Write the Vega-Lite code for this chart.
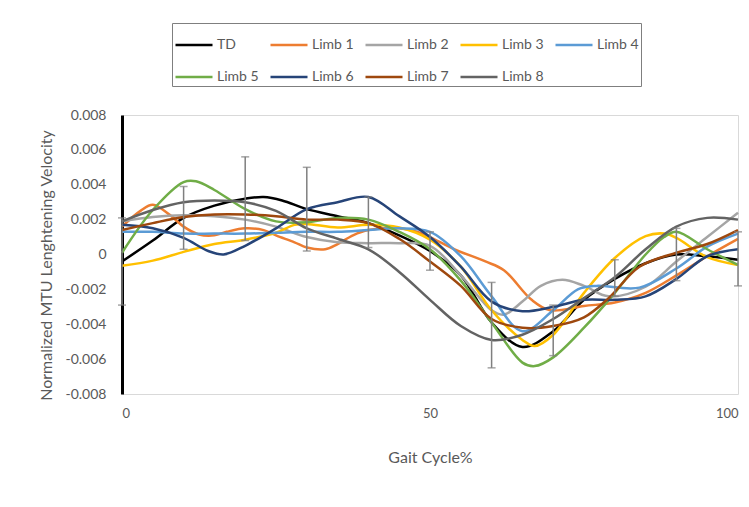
{
  "$schema": "https://vega.github.io/schema/vega-lite/v6.json",
  "width": 616,
  "height": 279,
  "autosize": {"type": "none"},
  "padding": {"left": 122, "top": 115, "right": 11, "bottom": 113},
  "background": "white",
  "config": {
    "font": "Lato",
    "view": {"stroke": "#D9D9D9", "strokeWidth": 1},
    "axis": {"labelColor": "#595959", "titleColor": "#595959", "labelFontSize": 14, "titleFontSize": 16, "titleFontWeight": "normal", "grid": false, "ticks": false, "labelOverlap": false},
    "axisY": {"format": ".3~f", "tickCount": 8,
              "labelExpr": "replace(datum.label, '\u2212', '-')", "domainColor": "#000000", "domainWidth": 3,
              "labelPadding": 16, "titleX": -76, "titleY": 150, "titleAngle": -90, "titleAlign": "center", "titleBaseline": "middle"},
    "axisX": {"domain": false, "labelFlush": 8, "labelFontSize": 13, "labelPadding": 13, "titlePadding": 29}
  },
  "datasets": {
    "lines": [
      {"s":"TD","g":0,"v":-0.0004},{"s":"TD","g":5,"v":0.0008},{"s":"TD","g":10,"v":0.0021},{"s":"TD","g":15,"v":0.0028},{"s":"TD","g":20,"v":0.0032},{"s":"TD","g":23,"v":0.0033},{"s":"TD","g":26,"v":0.0031},{"s":"TD","g":30,"v":0.0026},{"s":"TD","g":35,"v":0.0022},{"s":"TD","g":40,"v":0.0018},{"s":"TD","g":45,"v":0.0011},{"s":"TD","g":50,"v":0.0002},{"s":"TD","g":55,"v":-0.0012},{"s":"TD","g":60,"v":-0.0039},{"s":"TD","g":65,"v":-0.0053},{"s":"TD","g":70,"v":-0.0044},{"s":"TD","g":75,"v":-0.0026},{"s":"TD","g":80,"v":-0.0014},{"s":"TD","g":85,"v":-0.0005},{"s":"TD","g":90,"v":0.0000},{"s":"TD","g":95,"v":-0.0001},{"s":"TD","g":100,"v":-0.0003},

      {"s":"Limb 1","g":0,"v":0.0016},{"s":"Limb 1","g":3,"v":0.0025},{"s":"Limb 1","g":5,"v":0.00285},{"s":"Limb 1","g":8,"v":0.0022},{"s":"Limb 1","g":10,"v":0.0016},{"s":"Limb 1","g":12.5,"v":0.00115},{"s":"Limb 1","g":15,"v":0.0011},{"s":"Limb 1","g":17,"v":0.0013},{"s":"Limb 1","g":20,"v":0.0015},{"s":"Limb 1","g":23,"v":0.0014},{"s":"Limb 1","g":25,"v":0.0011},{"s":"Limb 1","g":28,"v":0.0007},{"s":"Limb 1","g":30,"v":0.0004},{"s":"Limb 1","g":33,"v":0.0003},{"s":"Limb 1","g":35,"v":0.0006},{"s":"Limb 1","g":37.5,"v":0.0011},{"s":"Limb 1","g":40,"v":0.0014},{"s":"Limb 1","g":45,"v":0.0015},{"s":"Limb 1","g":48,"v":0.0013},{"s":"Limb 1","g":50,"v":0.0010},{"s":"Limb 1","g":54,"v":0.0003},{"s":"Limb 1","g":59,"v":-0.0004},{"s":"Limb 1","g":62,"v":-0.0009},{"s":"Limb 1","g":66.5,"v":-0.0026},{"s":"Limb 1","g":69.5,"v":-0.0032},{"s":"Limb 1","g":75,"v":-0.00295},{"s":"Limb 1","g":80,"v":-0.00275},{"s":"Limb 1","g":85,"v":-0.0022},{"s":"Limb 1","g":90,"v":-0.0012},{"s":"Limb 1","g":95,"v":-0.0001},{"s":"Limb 1","g":100,"v":0.0009},

      {"s":"Limb 2","g":0,"v":0.0019},{"s":"Limb 2","g":5,"v":0.00215},{"s":"Limb 2","g":10,"v":0.00225},{"s":"Limb 2","g":15,"v":0.0022},{"s":"Limb 2","g":20,"v":0.0020},{"s":"Limb 2","g":25,"v":0.0016},{"s":"Limb 2","g":30,"v":0.0010},{"s":"Limb 2","g":35,"v":0.0007},{"s":"Limb 2","g":40,"v":0.00065},{"s":"Limb 2","g":45,"v":0.00065},{"s":"Limb 2","g":50,"v":0.0005},{"s":"Limb 2","g":55,"v":-0.0012},{"s":"Limb 2","g":60,"v":-0.0032},{"s":"Limb 2","g":62,"v":-0.00345},{"s":"Limb 2","g":65,"v":-0.0027},{"s":"Limb 2","g":68,"v":-0.0018},{"s":"Limb 2","g":71.5,"v":-0.00145},{"s":"Limb 2","g":75,"v":-0.0018},{"s":"Limb 2","g":79,"v":-0.0024},{"s":"Limb 2","g":85,"v":-0.00185},{"s":"Limb 2","g":90,"v":-0.0004},{"s":"Limb 2","g":95,"v":0.0010},{"s":"Limb 2","g":100,"v":0.0024},

      {"s":"Limb 3","g":0,"v":-0.00065},{"s":"Limb 3","g":5,"v":-0.00035},{"s":"Limb 3","g":10,"v":0.00015},{"s":"Limb 3","g":15,"v":0.0006},{"s":"Limb 3","g":20,"v":0.00085},{"s":"Limb 3","g":25,"v":0.00125},{"s":"Limb 3","g":28,"v":0.0017},{"s":"Limb 3","g":30,"v":0.00175},{"s":"Limb 3","g":35,"v":0.00155},{"s":"Limb 3","g":40,"v":0.0017},{"s":"Limb 3","g":45,"v":0.00155},{"s":"Limb 3","g":50,"v":0.00085},{"s":"Limb 3","g":55,"v":-0.0007},{"s":"Limb 3","g":60,"v":-0.0032},{"s":"Limb 3","g":65,"v":-0.0049},{"s":"Limb 3","g":67,"v":-0.00525},{"s":"Limb 3","g":70,"v":-0.0046},{"s":"Limb 3","g":75,"v":-0.0022},{"s":"Limb 3","g":80,"v":-0.0002},{"s":"Limb 3","g":85,"v":0.00105},{"s":"Limb 3","g":88,"v":0.0012},{"s":"Limb 3","g":90,"v":0.00095},{"s":"Limb 3","g":95,"v":-0.00015},{"s":"Limb 3","g":100,"v":-0.0006},

      {"s":"Limb 4","g":0,"v":0.0013},{"s":"Limb 4","g":5,"v":0.0013},{"s":"Limb 4","g":10,"v":0.0012},{"s":"Limb 4","g":15,"v":0.0012},{"s":"Limb 4","g":20,"v":0.0012},{"s":"Limb 4","g":25,"v":0.00125},{"s":"Limb 4","g":30,"v":0.0013},{"s":"Limb 4","g":35,"v":0.0013},{"s":"Limb 4","g":40,"v":0.0014},{"s":"Limb 4","g":45,"v":0.0015},{"s":"Limb 4","g":50,"v":0.0013},{"s":"Limb 4","g":55,"v":-0.0001},{"s":"Limb 4","g":60,"v":-0.0024},{"s":"Limb 4","g":65,"v":-0.0044},{"s":"Limb 4","g":70,"v":-0.0032},{"s":"Limb 4","g":74,"v":-0.0020},{"s":"Limb 4","g":77,"v":-0.0018},{"s":"Limb 4","g":84,"v":-0.0019},{"s":"Limb 4","g":90,"v":-0.0008},{"s":"Limb 4","g":95,"v":0.00045},{"s":"Limb 4","g":100,"v":0.0012},

      {"s":"Limb 5","g":0,"v":0.0001},{"s":"Limb 5","g":5,"v":0.00255},{"s":"Limb 5","g":10,"v":0.00415},{"s":"Limb 5","g":12,"v":0.0042},{"s":"Limb 5","g":15,"v":0.0037},{"s":"Limb 5","g":20,"v":0.0026},{"s":"Limb 5","g":25,"v":0.0019},{"s":"Limb 5","g":30,"v":0.00185},{"s":"Limb 5","g":35,"v":0.0021},{"s":"Limb 5","g":40,"v":0.0020},{"s":"Limb 5","g":45,"v":0.0013},{"s":"Limb 5","g":50,"v":0.0003},{"s":"Limb 5","g":55,"v":-0.0015},{"s":"Limb 5","g":60,"v":-0.0039},{"s":"Limb 5","g":65,"v":-0.0062},{"s":"Limb 5","g":67,"v":-0.0064},{"s":"Limb 5","g":70,"v":-0.0059},{"s":"Limb 5","g":75,"v":-0.0042},{"s":"Limb 5","g":80,"v":-0.0022},{"s":"Limb 5","g":85,"v":0.0000},{"s":"Limb 5","g":88,"v":0.0010},{"s":"Limb 5","g":90,"v":0.0013},{"s":"Limb 5","g":95,"v":0.0003},{"s":"Limb 5","g":100,"v":-0.0006},

      {"s":"Limb 6","g":0,"v":0.0017},{"s":"Limb 6","g":5,"v":0.0015},{"s":"Limb 6","g":10,"v":0.00095},{"s":"Limb 6","g":14,"v":0.0002},{"s":"Limb 6","g":16.5,"v":0.0000},{"s":"Limb 6","g":20,"v":0.0005},{"s":"Limb 6","g":25,"v":0.0015},{"s":"Limb 6","g":30,"v":0.0026},{"s":"Limb 6","g":35,"v":0.0030},{"s":"Limb 6","g":40,"v":0.0033},{"s":"Limb 6","g":45,"v":0.0022},{"s":"Limb 6","g":50,"v":0.0010},{"s":"Limb 6","g":55,"v":-0.0007},{"s":"Limb 6","g":60,"v":-0.0027},{"s":"Limb 6","g":65,"v":-0.00325},{"s":"Limb 6","g":70,"v":-0.0030},{"s":"Limb 6","g":75,"v":-0.0026},{"s":"Limb 6","g":80,"v":-0.0026},{"s":"Limb 6","g":85,"v":-0.0024},{"s":"Limb 6","g":90,"v":-0.0014},{"s":"Limb 6","g":95,"v":-0.0001},{"s":"Limb 6","g":100,"v":0.0003},

      {"s":"Limb 7","g":0,"v":0.0014},{"s":"Limb 7","g":5,"v":0.0018},{"s":"Limb 7","g":10,"v":0.00215},{"s":"Limb 7","g":15,"v":0.0023},{"s":"Limb 7","g":20,"v":0.0023},{"s":"Limb 7","g":25,"v":0.0022},{"s":"Limb 7","g":30,"v":0.0020},{"s":"Limb 7","g":35,"v":0.0020},{"s":"Limb 7","g":40,"v":0.0018},{"s":"Limb 7","g":45,"v":0.0009},{"s":"Limb 7","g":50,"v":-0.0004},{"s":"Limb 7","g":55,"v":-0.0018},{"s":"Limb 7","g":60,"v":-0.0037},{"s":"Limb 7","g":65,"v":-0.0042},{"s":"Limb 7","g":70,"v":-0.0041},{"s":"Limb 7","g":75,"v":-0.0036},{"s":"Limb 7","g":79,"v":-0.0025},{"s":"Limb 7","g":84,"v":-0.0007},{"s":"Limb 7","g":90,"v":0.0001},{"s":"Limb 7","g":95,"v":0.0006},{"s":"Limb 7","g":100,"v":0.0014},

      {"s":"Limb 8","g":0,"v":0.0019},{"s":"Limb 8","g":5,"v":0.00255},{"s":"Limb 8","g":10,"v":0.0030},{"s":"Limb 8","g":15,"v":0.0031},{"s":"Limb 8","g":20,"v":0.0030},{"s":"Limb 8","g":25,"v":0.0025},{"s":"Limb 8","g":30,"v":0.0015},{"s":"Limb 8","g":35,"v":0.0009},{"s":"Limb 8","g":40,"v":0.0003},{"s":"Limb 8","g":45,"v":-0.0010},{"s":"Limb 8","g":50,"v":-0.0026},{"s":"Limb 8","g":55,"v":-0.0041},{"s":"Limb 8","g":60,"v":-0.0049},{"s":"Limb 8","g":65,"v":-0.0046},{"s":"Limb 8","g":70,"v":-0.0037},{"s":"Limb 8","g":75,"v":-0.0025},{"s":"Limb 8","g":80,"v":-0.0013},{"s":"Limb 8","g":85,"v":0.0003},{"s":"Limb 8","g":90,"v":0.0016},{"s":"Limb 8","g":95,"v":0.0021},{"s":"Limb 8","g":100,"v":0.0020}
    ],
    "err": [
      {"g":0,"lo":-0.0029,"hi":0.0021},
      {"g":10,"lo":0.0003,"hi":0.0039},
      {"g":20,"lo":0.0008,"hi":0.0056},
      {"g":30,"lo":0.0002,"hi":0.0050},
      {"g":40,"lo":0.0004,"hi":0.0033},
      {"g":50,"lo":-0.0009,"hi":0.0013},
      {"g":60,"lo":-0.0065,"hi":-0.0016},
      {"g":70,"lo":-0.0058,"hi":-0.0029},
      {"g":80,"lo":-0.0024,"hi":-0.0003},
      {"g":90,"lo":-0.0015,"hi":0.0015},
      {"g":100,"lo":-0.0018,"hi":0.0013}
    ]
  },
  "layer": [
    {
      "data": {"name": "lines"},
      "mark": {"type": "line", "interpolate": "catmull-rom", "strokeWidth": 2.5},
      "encoding": {
        "x": {"field": "g", "type": "quantitative", "scale": {"domain": [0, 100], "nice": false}, "title": "Gait Cycle%",
              "axis": {"values": [0, 50, 100]}},
        "y": {"field": "v", "type": "quantitative", "scale": {"domain": [-0.008, 0.008], "nice": false}, "title": "Normalized MTU Lenghtening Velocity"},
        "color": {"field": "s", "type": "nominal",
                  "scale": {"domain": ["TD", "Limb 1", "Limb 2", "Limb 3", "Limb 4", "Limb 5", "Limb 6", "Limb 7", "Limb 8"],
                            "range": ["#000000", "#ED7D31", "#A5A5A5", "#FFC000", "#5B9BD5", "#70AD47", "#264478", "#9E480E", "#636363"]},
                  "legend": {"title": null, "orient": "none", "legendX": 50, "legendY": -92, "direction": "horizontal", "columns": 5,
                             "symbolType": "stroke", "symbolSize": 1369, "symbolStrokeWidth": 2.5, "labelFontSize": 14, "labelColor": "#595959",
                             "labelOffset": 3, "columnPadding": 6, "rowPadding": 5, "padding": 2, "strokeColor": "#7F7F7F", "fillColor": "white", "labelLimit": 0}},
        "order": {"field": "g", "type": "quantitative"}
      }
    },
    {
      "mark": {"type": "rule", "color": "#D9D9D9", "strokeWidth": 1},
      "encoding": {"y": {"datum": 0, "type": "quantitative", "title": "Normalized MTU Lenghtening Velocity"}}
    },
    {
      "data": {"name": "err"},
      "mark": {"type": "errorbar", "color": "#7F7F7F", "thickness": 1.5, "ticks": {"size": 8}},
      "encoding": {
        "x": {"field": "g", "type": "quantitative", "title": "Gait Cycle%"},
        "y": {"field": "lo", "type": "quantitative", "title": "Normalized MTU Lenghtening Velocity"},
        "y2": {"field": "hi"}
      }
    }
  ]
}
